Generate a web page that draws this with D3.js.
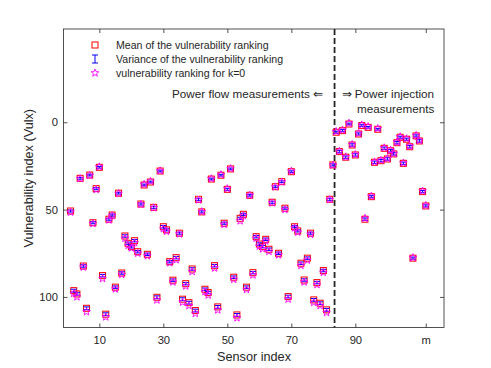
<!DOCTYPE html>
<html>
<head>
<meta charset="utf-8">
<script src="https://cdn.jsdelivr.net/npm/d3@7"></script>
<style>
  body { margin: 0; background: #fff; }
  svg text { font-family: "Liberation Sans", Arial, Helvetica, sans-serif; fill: #262626; }
</style>
</head>
<body>
<div class="chart"></div>
<script>
// sensor data (m = 112 sensors)
var meanRank = [50.8, 96.4, 98.3, 32.1, 82.3, 106.5, 30.2, 57.5, 38.0, 25.8,
  87.8, 109.9, 55.5, 53.1, 94.4, 40.6, 86.3, 65.1, 69.3, 71.2,
  67.8, 74.1, 46.8, 35.9, 75.6, 34.2, 48.7, 100.2, 27.9, 59.8,
  61.6, 79.8, 90.4, 77.5, 63.5, 101.3, 92.4, 103.3, 84.0, 107.8,
  44.1, 51.3, 95.6, 97.5, 32.5, 82.1, 105.7, 30.3, 57.8, 38.4,
  26.7, 88.7, 110.3, 55.0, 52.7, 94.4, 41.8, 86.1, 65.5, 69.7,
  71.2, 67.0, 72.7, 45.8, 36.9, 75.0, 34.0, 49.2, 99.8, 28.3,
  59.8, 62.2, 80.7, 90.3, 77.8, 63.5, 101.7, 91.8, 103.6, 84.9,
  107.4, 44.1, 24.4, 5.7, 16.8, 4.8, 20.0, 1.0, 13.0, 18.7,
  6.7, 1.9, 55.5, 2.9, 42.6, 22.9, 4.0, 22.0, 14.9, 21.0,
  16.3, 18.1, 11.7, 8.6, 23.5, 9.7, 14.0, 77.8, 7.8, 10.7,
  39.7, 47.9];

var varRank = [0.6, 0.8, 0.7, 0.5, 0.7, 0.8, 0.5, 0.6, 0.6, 0.5,
  0.7, 0.8, 0.6, 0.6, 0.7, 0.5, 0.7, 0.7, 0.7, 0.8,
  0.7, 0.7, 0.6, 0.5, 0.7, 0.5, 0.6, 0.8, 0.5, 0.7,
  0.6, 0.7, 0.7, 0.7, 0.6, 0.8, 0.7, 0.8, 0.7, 0.8,
  0.6, 0.6, 0.7, 0.7, 0.5, 0.7, 0.8, 0.5, 0.6, 0.6,
  0.5, 0.7, 0.8, 0.6, 0.6, 0.7, 0.5, 0.7, 0.7, 0.7,
  0.7, 0.7, 0.7, 0.6, 0.5, 0.7, 0.5, 0.6, 0.8, 0.5,
  0.6, 0.6, 0.7, 0.7, 0.7, 0.6, 0.8, 0.7, 0.8, 0.7,
  0.8, 0.6, 0.6, 0.6, 0.7, 0.6, 0.7, 0.5, 0.7, 0.7,
  0.6, 0.5, 0.7, 0.5, 0.6, 0.7, 0.5, 0.7, 0.7, 0.7,
  0.7, 0.7, 0.7, 0.6, 0.7, 0.6, 0.7, 0.6, 0.6, 0.7,
  0.6, 0.6];

var rankK0 = [51.5, 98, 100, 32.3, 83, 108.5, 30.5, 58, 38.5, 25.5,
  89.5, 111.5, 56, 53.5, 95.5, 40.8, 87.2, 66.5, 70.5, 72,
  69, 75, 47, 35.5, 76.5, 33.8, 49, 101.8, 27.8, 61,
  62.5, 80.5, 91.5, 78.8, 64, 103, 93.8, 105, 85.5, 109.5,
  44.5, 51.2, 97, 99, 32.3, 83.5, 107.5, 30, 58.5, 38,
  26.5, 90, 112, 56.5, 53.5, 95.8, 41.8, 87.5, 66.5, 71,
  72.5, 68, 74, 46.2, 37, 76, 34.2, 50, 101.3, 28,
  60.5, 63, 82, 91.5, 79, 64.2, 103.2, 93, 105, 86,
  109, 44.3, 24.6, 5.3, 16.6, 4.5, 19.8, 0.5, 12.7, 18.5,
  6.3, 1.5, 55, 2.5, 42.3, 22.7, 3.6, 21.8, 14.6, 20.8,
  16.0, 17.9, 11.4, 8.3, 23.3, 9.4, 13.7, 77.5, 7.5, 10.4,
  39.4, 47.6];

var xTicks = [10, 30, 50, 70, 90, 112];
var xTickLabels = ["10", "30", "50", "70", "90", "m"];
var yTicks = [0, 50, 100];
var splitAt = 83.5;

var legendLabels = ["Mean of the vulnerability ranking",
  "Variance of the vulnerability ranking",
  "vulnerability ranking for k=0"];

var svgWidth = 491;
var svgHeight = 368;
var axColor = "#262626";

var svg = d3.select(".chart")
  .append("svg")
  .attr("width", svgWidth)
  .attr("height", svgHeight);

var pLeft = 63.5, pRight = 444, pTop = 29, pBottom = 327.5;

var x = d3.scaleLinear().domain([-1.2, 117.7]).range([pLeft, pRight]);
var y = d3.scaleLinear().domain([-53.4, 117.5]).range([pTop, pBottom]);

// axes
var xAxis = d3.axisBottom(x)
  .tickValues(xTicks)
  .tickFormat(function(d, i) { return xTickLabels[i]; })
  .tickSizeInner(-4).tickSizeOuter(0).tickPadding(9);
var gx = svg.append("g")
  .attr("transform", `translate(0, ${pBottom})`)
  .call(xAxis);

var gxTop = svg.append("g")
  .attr("transform", `translate(0, ${pTop})`)
  .call(d3.axisTop(x).tickValues(xTicks).tickFormat("").tickSizeInner(-4).tickSizeOuter(0));

var gy = svg.append("g")
  .attr("transform", `translate(${pLeft}, 0)`)
  .call(d3.axisLeft(y).tickValues(yTicks).tickSizeInner(-4).tickSizeOuter(0).tickPadding(5.5));

var gyRight = svg.append("g")
  .attr("transform", `translate(${pRight}, 0)`)
  .call(d3.axisRight(y).tickValues(yTicks).tickFormat("").tickSizeInner(-4).tickSizeOuter(0));

[gx, gxTop, gy, gyRight].forEach(function(g) {
  g.select(".domain").remove();
  g.selectAll(".tick line").attr("stroke", axColor).attr("stroke-width", 0.8);
  g.selectAll(".tick text")
    .attr("font-size", "11.2px")
    .attr("fill", axColor)
    .attr("font-family", "Liberation Sans, Arial, sans-serif");
});

svg.append("rect")
  .attr("x", pLeft).attr("y", pTop)
  .attr("width", pRight - pLeft).attr("height", pBottom - pTop)
  .attr("fill", "none")
  .attr("stroke", axColor)
  .attr("stroke-width", 0.8);

// dashed split line
svg.append("line")
  .attr("x1", x(splitAt)).attr("x2", x(splitAt))
  .attr("y1", pTop).attr("y2", pBottom)
  .attr("stroke", "#262626")
  .attr("stroke-width", 1.8)
  .attr("stroke-dasharray", "6,3");

function starPath(cx, cy, R, r) {
  var pts = [];
  for (var i = 0; i < 10; i++) {
    var a = -Math.PI / 2 + i * Math.PI / 5;
    var rad = i % 2 === 0 ? R : r;
    pts.push([cx + rad * Math.cos(a), cy + rad * Math.sin(a)]);
  }
  return "M" + pts.map(function(p) { return p[0].toFixed(2) + "," + p[1].toFixed(2); }).join("L") + "Z";
}

var idx = d3.range(1, meanRank.length + 1);

// mean squares
svg.append("g").selectAll("rect")
  .data(idx)
  .enter()
  .append("rect")
  .attr("x", d => x(d) - 3)
  .attr("y", d => y(meanRank[d - 1]) - 3)
  .attr("width", 6)
  .attr("height", 6)
  .attr("fill", "none")
  .attr("stroke", "#ff0000")
  .attr("stroke-width", 1);

// variance error bars
var eb = svg.append("g").attr("stroke", "#0000ff").attr("stroke-width", 1);
idx.forEach(function(d) {
  var cx = x(d);
  var y1 = y(meanRank[d - 1] - varRank[d - 1]);
  var y2 = y(meanRank[d - 1] + varRank[d - 1]);
  eb.append("line").attr("x1", cx).attr("x2", cx).attr("y1", y1).attr("y2", y2);
  eb.append("line").attr("x1", cx - 3).attr("x2", cx + 3).attr("y1", y1).attr("y2", y1);
  eb.append("line").attr("x1", cx - 3).attr("x2", cx + 3).attr("y1", y2).attr("y2", y2);
});

// k=0 stars
svg.append("g").selectAll("path")
  .data(idx)
  .enter()
  .append("path")
  .attr("d", d => starPath(x(d), y(rankK0[d - 1]), 4, 1.7))
  .attr("fill", "none")
  .attr("stroke", "#ff00ff")
  .attr("stroke-width", 0.9);

// legend
var lx = 95, lt = 116, ly = [45, 59, 73];
svg.append("rect")
  .attr("x", lx - 3).attr("y", ly[0] - 3).attr("width", 6).attr("height", 6)
  .attr("fill", "none").attr("stroke", "#ff0000");
var lg = svg.append("g").attr("stroke", "#0000ff").attr("stroke-width", 1);
lg.append("line").attr("x1", lx).attr("x2", lx).attr("y1", ly[1] - 4).attr("y2", ly[1] + 4);
lg.append("line").attr("x1", lx - 3).attr("x2", lx + 3).attr("y1", ly[1] - 4).attr("y2", ly[1] - 4);
lg.append("line").attr("x1", lx - 3).attr("x2", lx + 3).attr("y1", ly[1] + 4).attr("y2", ly[1] + 4);
svg.append("path")
  .attr("d", starPath(lx, ly[2], 4, 1.7))
  .attr("fill", "none").attr("stroke", "#ff00ff").attr("stroke-width", 0.9);

legendLabels.forEach(function(t, i) {
  svg.append("text")
    .attr("x", lt).attr("y", ly[i])
    .attr("dy", "0.35em")
    .attr("font-size", "10.6px")
    .text(t);
});

// annotations
svg.append("text")
  .attr("x", 323).attr("y", 98)
  .attr("text-anchor", "end")
  .attr("font-size", "11.7px")
  .text("Power flow measurements \u21D0");
svg.append("text")
  .attr("x", 341.5).attr("y", 98)
  .attr("font-size", "11.7px")
  .text("\u21D2 Power injection");
svg.append("text")
  .attr("x", 357).attr("y", 113)
  .attr("font-size", "11.7px")
  .text("measurements");

// axis labels
svg.append("text")
  .attr("transform", `translate(254, 361)`)
  .attr("text-anchor", "middle")
  .attr("font-size", "12.7px")
  .text("Sensor index");

svg.append("text")
  .attr("transform", `translate(32.5, ${(pTop + pBottom) / 2}) rotate(-90)`)
  .attr("text-anchor", "middle")
  .attr("font-size", "12.7px")
  .text("Vulnerability index (Vulx)");
</script>
</body>
</html>
